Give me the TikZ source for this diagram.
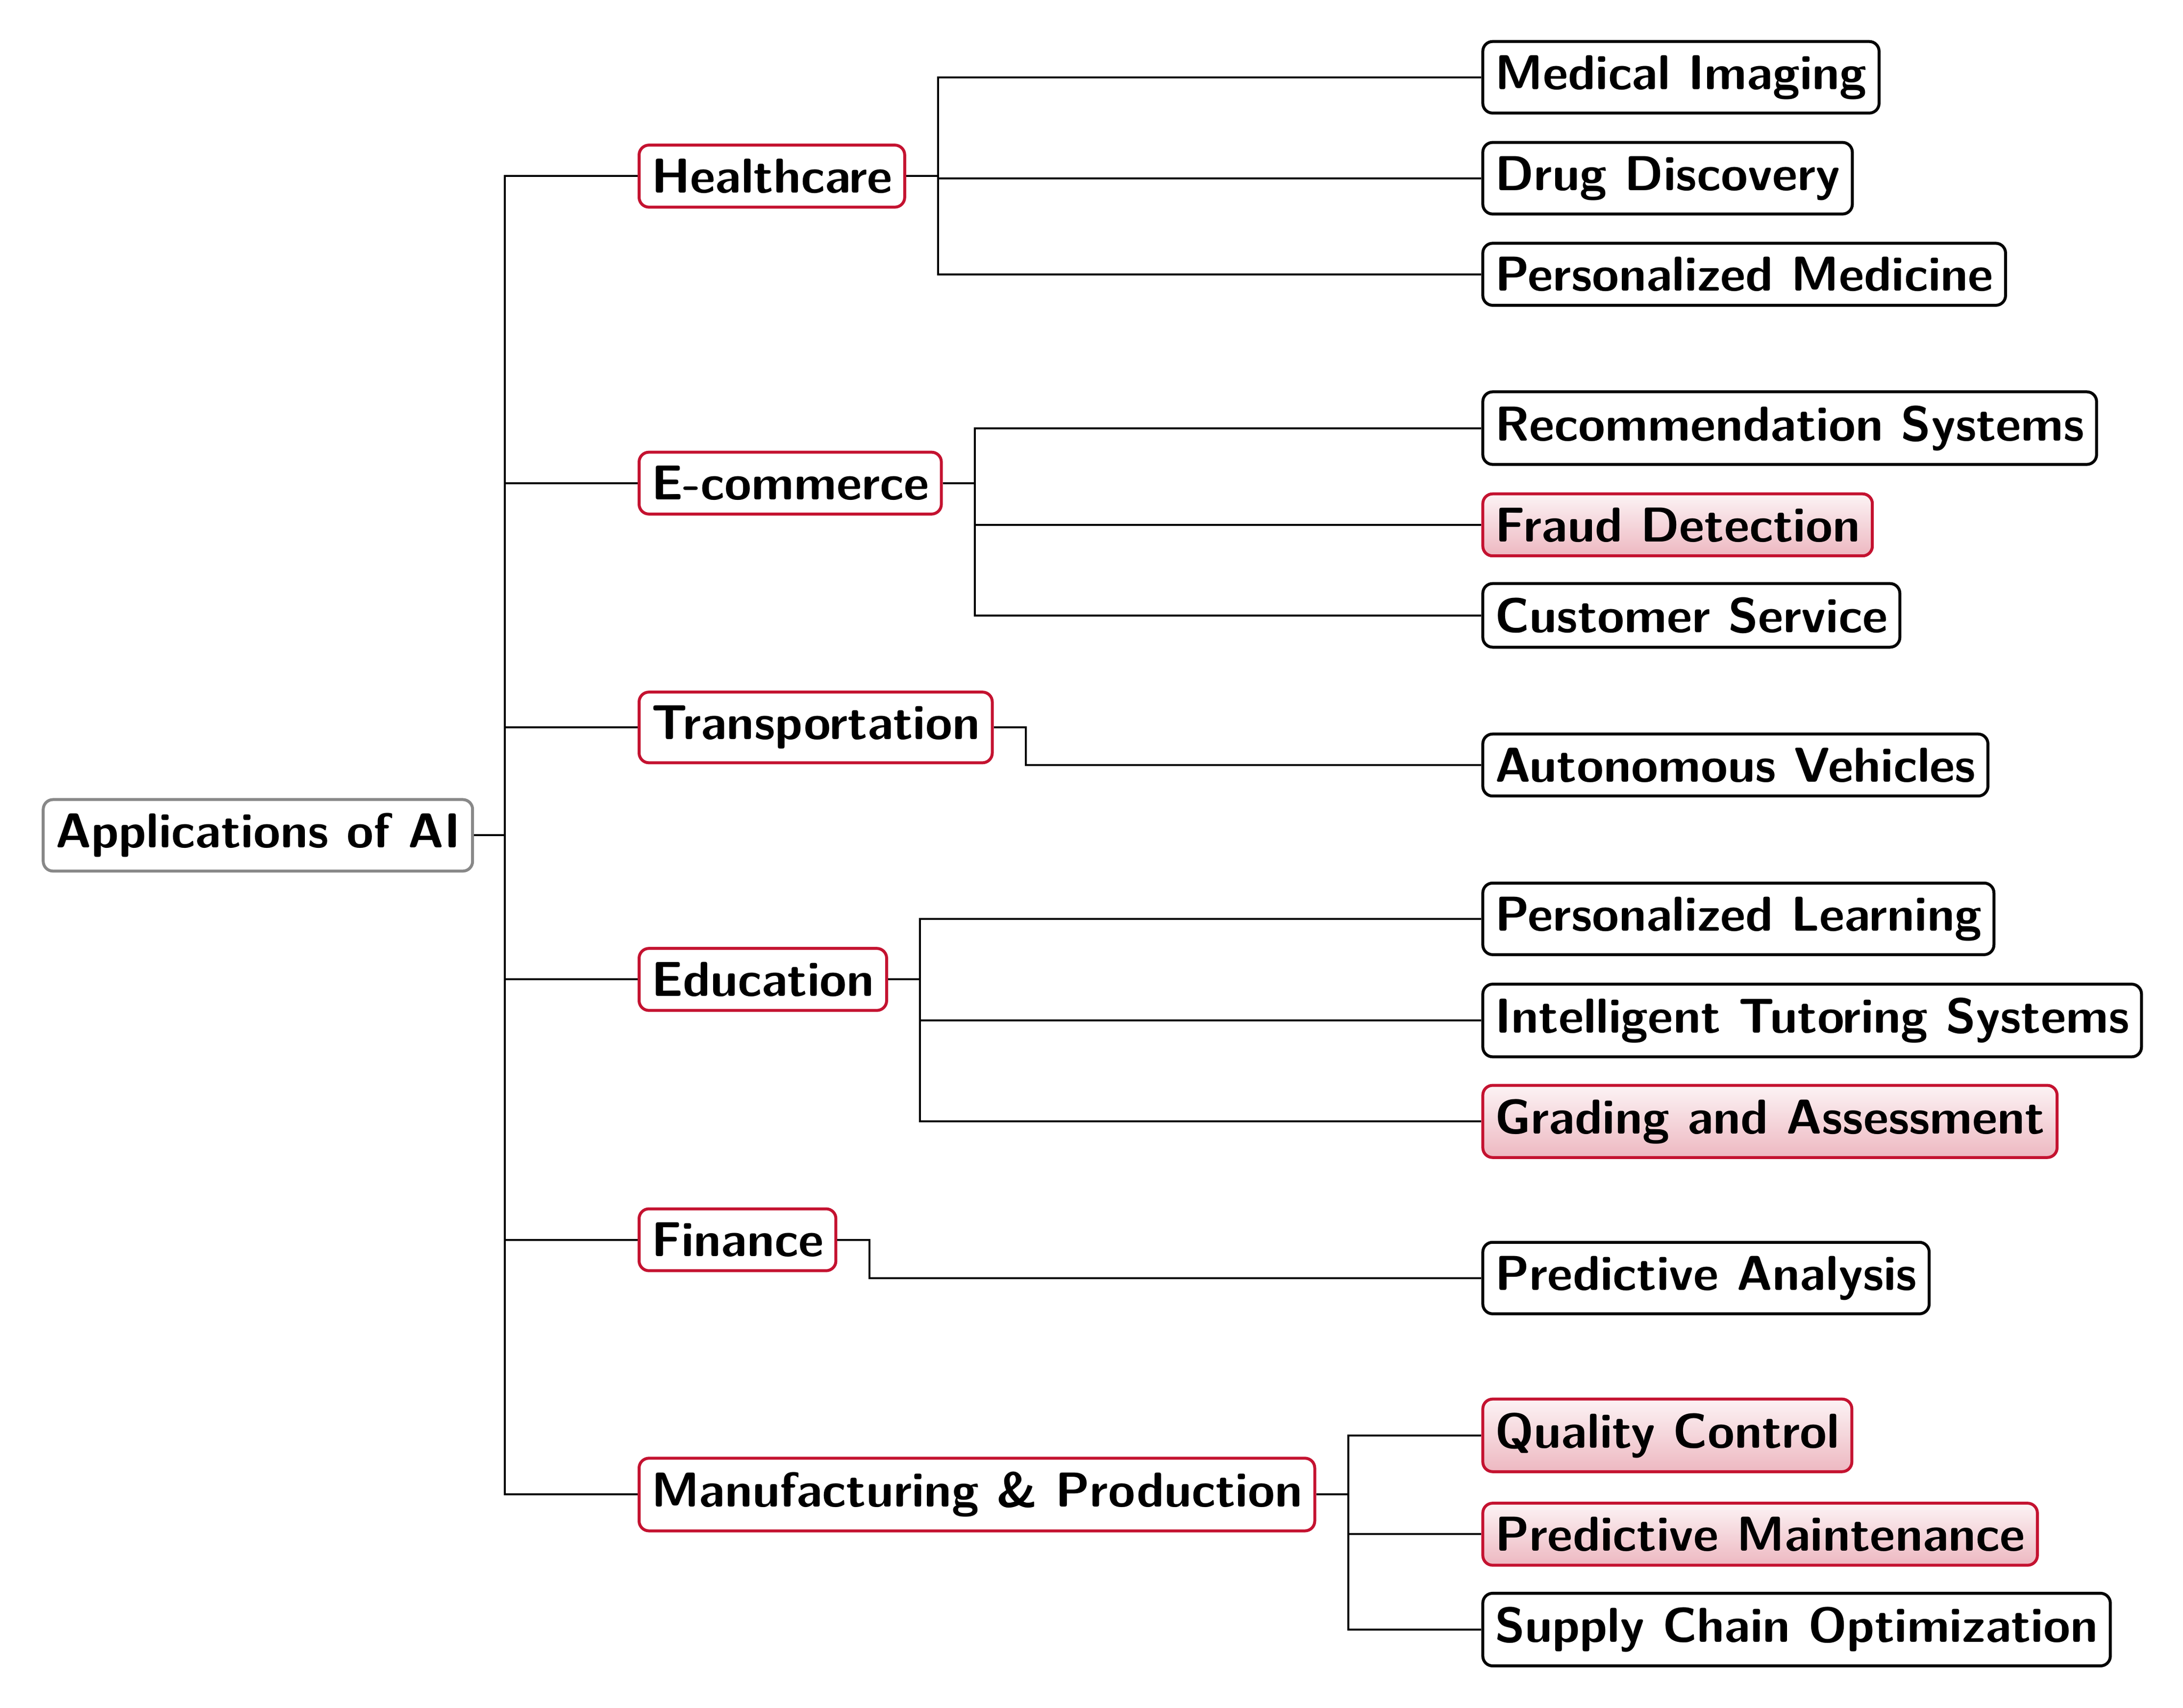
\documentclass[tikz,border=0pt]{standalone}
\definecolor{appred}{RGB}{196,18,48}
\definecolor{rootgray}{RGB}{136,136,136}

\begin{document}
\begin{tikzpicture}[x=0.284pt, y=-0.284pt, font=\sffamily\bfseries,
  appbox/.style={draw, semithick, rounded corners=2pt, inner xsep=2.5pt, inner ysep=2.8pt, anchor=west},
  rootbox/.style={appbox, draw=rootgray},
  areabox/.style={appbox, draw=appred},
  leafbox/.style={appbox, draw=black},
  keybox/.style={appbox, draw=appred, top color=appred!5, bottom color=appred!30},
  link/.style={thin}]
\useasboundingbox (0,0) rectangle (1568,1226.8);
\node[rootbox] (ai) at (30,600) {Applications of AI};
\node[areabox] (health) at (458,126.5) {Healthcare};
\node[areabox] (ecom) at (458,347) {E-commerce};
\node[areabox] (trans) at (458,522.5) {Transportation};
\node[areabox] (edu) at (458,703.5) {Education};
\node[areabox] (fin) at (458,890.5) {Finance};
\node[areabox] (manu) at (458,1073.5) {Manufacturing \& Production};
\node[leafbox] (imaging) at (1064,55.5) {Medical Imaging};
\node[leafbox] (drug) at (1064,128) {Drug Discovery};
\node[leafbox] (medicine) at (1064,197) {Personalized Medicine};
\node[leafbox] (recsys) at (1064,307.5) {Recommendation Systems};
\node[keybox] (fraud) at (1064,377) {Fraud Detection};
\node[leafbox] (service) at (1064,442) {Customer Service};
\node[leafbox] (vehicles) at (1064,549.5) {Autonomous Vehicles};
\node[leafbox] (learning) at (1064,660) {Personalized Learning};
\node[leafbox] (tutoring) at (1064,733) {Intelligent Tutoring Systems};
\node[keybox] (grading) at (1064,805.5) {Grading and Assessment};
\node[leafbox] (analysis) at (1064,918) {Predictive Analysis};
\node[keybox] (quality) at (1064,1031) {Quality Control};
\node[keybox] (maint) at (1064,1102) {Predictive Maintenance};
\node[leafbox] (supply) at (1064,1170.5) {Supply Chain Optimization};
\foreach \area in {health, ecom, trans, edu, fin, manu}
  \draw[link] (ai.east) -- ++(22,0) |- (\area.west);
\foreach \leaf in {imaging, drug, medicine}
  \draw[link] (health.east) -- ++(23,0) |- (\leaf.west);
\foreach \leaf in {recsys, fraud, service}
  \draw[link] (ecom.east) -- ++(23,0) |- (\leaf.west);
\draw[link] (trans.east) -- ++(23,0) |- (vehicles.west);
\foreach \leaf in {learning, tutoring, grading}
  \draw[link] (edu.east) -- ++(23,0) |- (\leaf.west);
\draw[link] (fin.east) -- ++(23,0) |- (analysis.west);
\foreach \leaf in {quality, maint, supply}
  \draw[link] (manu.east) -- ++(23,0) |- (\leaf.west);
\end{tikzpicture}
\end{document}
